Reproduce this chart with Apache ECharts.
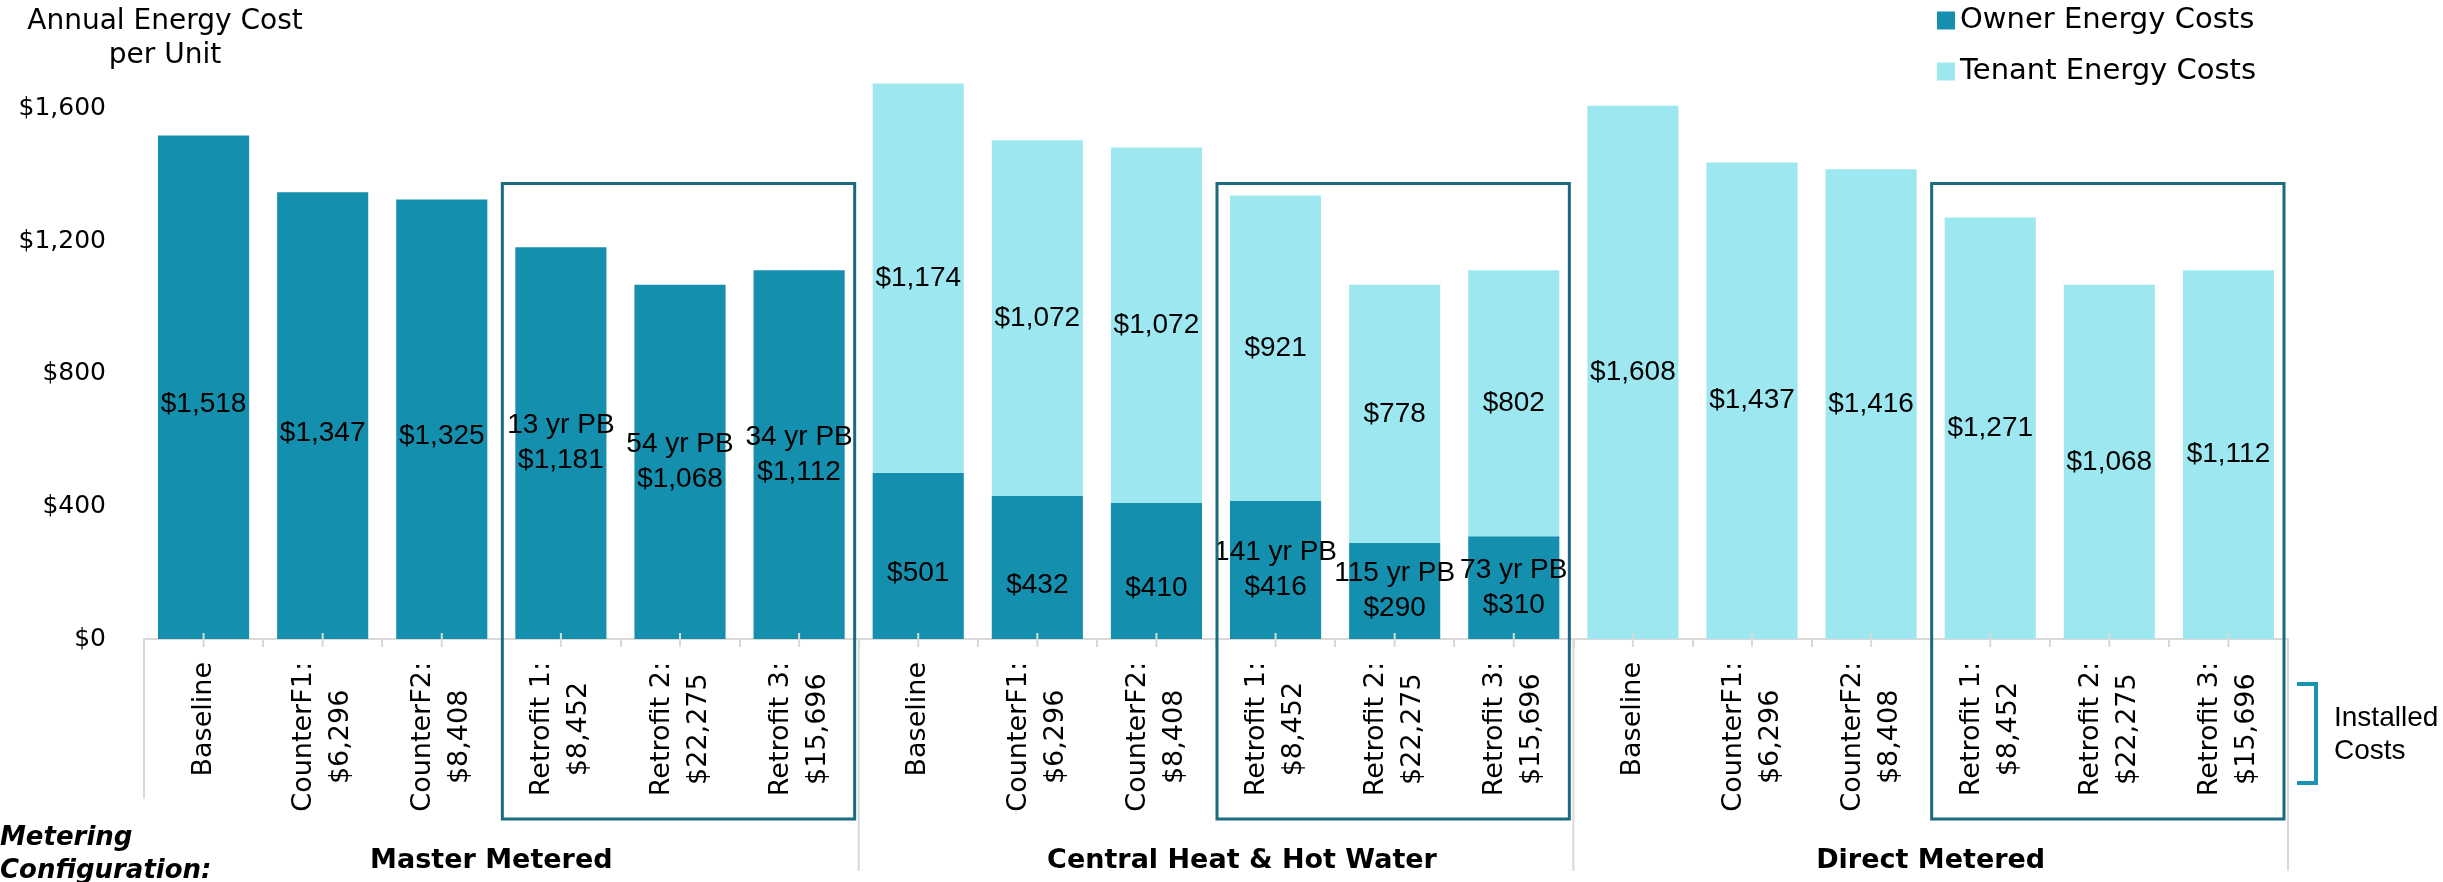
<!DOCTYPE html>
<html>
<head>
<meta charset="utf-8">
<script src="https://cdn.jsdelivr.net/npm/echarts@6/dist/echarts.min.js"></script>
<style>
html,body{margin:0;padding:0;background:#fff;}
#chart{width:2443px;height:882px;}
</style>
</head>
<body>
<div id="chart"></div>
<script>
// ---------------- DATA ----------------
const scenarioLabels = ['Baseline', 'CounterF1:\n$6,296', 'CounterF2:\n$8,408',
  'Retrofit 1:\n$8,452', 'Retrofit 2:\n$22,275', 'Retrofit 3:\n$15,696'];
const groups = ['Master Metered', 'Central Heat & Hot Water', 'Direct Metered'];
const categories = [].concat(scenarioLabels, scenarioLabels, scenarioLabels);

const ownerCosts = [1518, 1347, 1325, 1181, 1068, 1112,
                    501, 432, 410, 416, 290, 310,
                    null, null, null, null, null, null];
const tenantCosts = [null, null, null, null, null, null,
                     1174, 1072, 1072, 921, 778, 802,
                     1608, 1437, 1416, 1271, 1068, 1112];
const paybackLabels = ['', '', '', '13 yr PB', '54 yr PB', '34 yr PB',
                       '', '', '', '141 yr PB', '115 yr PB', '73 yr PB',
                       '', '', '', '', '', ''];
const yTickValues = [0, 400, 800, 1200, 1600];
const seriesNames = ['Owner Energy Costs', 'Tenant Energy Costs'];
const yTitle = 'Annual Energy Cost\nper Unit';
const meteringTitle = 'Metering\nConfiguration:';
const installedTitle = 'Installed\nCosts';

// ---------------- STYLE ----------------
const OWNER = '#148FAD';
const TENANT = '#9DE8F0';
const BOX = '#1A6A80';
const BRACKET = '#1A93B2';
const AXISGREY = '#D9D9D9';
const GOTHIC = "'DejaVu Sans', sans-serif";
const ARIAL = "'Liberation Sans', Arial, sans-serif";

const money = v => '$' + Number(v).toLocaleString('en-US');

const chart = echarts.init(document.getElementById('chart'), null, {renderer: 'canvas'});

const option = {
  animation: false,
  backgroundColor: '#fff',
  legend: {
    orient: 'vertical',
    left: 1932,
    top: 1,
    itemWidth: 18,
    itemHeight: 18,
    itemGap: 22,
    icon: 'rect',
    textStyle: {fontFamily: GOTHIC, fontSize: 29, color: '#000'},
    data: seriesNames
  },
  grid: {left: 144, right: 155, top: 42, bottom: 243, containLabel: false},
  xAxis: {
    type: 'category',
    data: categories,
    axisLine: {show: true, lineStyle: {color: AXISGREY, width: 2}},
    axisTick: {show: true, length: 8, lineStyle: {color: AXISGREY, width: 2}},
    axisLabel: {
      interval: 0,
      rotate: 90,
      margin: 23,
      color: '#000',
      fontFamily: GOTHIC,
      fontSize: 27,
      formatter: v => v.split('\n').map(s => '{c|' + s + '}').join('\n'),
      rich: {c: {align: 'center', fontFamily: GOTHIC, fontSize: 27, lineHeight: 37, color: '#000'}}
    }
  },
  yAxis: {
    type: 'value',
    min: 0,
    max: 1800,
    interval: 400,
    axisLine: {show: false},
    axisTick: {show: false},
    splitLine: {show: false},
    axisLabel: {
      margin: 38,
      color: '#000',
      fontFamily: GOTHIC,
      fontSize: 25,
      formatter: v => (yTickValues.indexOf(v) >= 0 ? money(v) : '')
    }
  },
  series: [
    {
      name: seriesNames[0],
      type: 'bar',
      stack: 'total',
      barCategoryGap: '23.5%',
      itemStyle: {color: OWNER},
      data: ownerCosts,
      label: {
        show: true,
        position: 'inside',
        color: '#000',
        fontFamily: ARIAL,
        fontSize: 28,
        lineHeight: 35,
        formatter: p => (paybackLabels[p.dataIndex] || '') + '\n' + money(p.value)
      }
    },
    {
      name: seriesNames[1],
      type: 'bar',
      stack: 'total',
      barCategoryGap: '23.5%',
      itemStyle: {color: TENANT},
      data: tenantCosts,
      label: {
        show: true,
        position: 'inside',
        color: '#000',
        fontFamily: ARIAL,
        fontSize: 28,
        lineHeight: 35,
        formatter: p => money(p.value)
      }
    }
  ]
};
chart.setOption(option);

// ---------------- ANNOTATIONS (positions derived from the axes) ----------------
const p0 = chart.convertToPixel({gridIndex: 0}, [0, 0]);
const p1 = chart.convertToPixel({gridIndex: 0}, [1, 0]);
const band = p1[0] - p0[0];
const axisY = p0[1];
const center = i => p0[0] + i * band;
const boundary = i => p0[0] - band / 2 + i * band;
const yPix = v => chart.convertToPixel({gridIndex: 0}, [0, v])[1];

const g = [];
// center ticks
for (let i = 0; i < categories.length; i++) {
  g.push({type: 'line', silent: true, z: 5,
    shape: {x1: center(i), y1: axisY - 6, x2: center(i), y2: axisY + 8},
    style: {stroke: AXISGREY, lineWidth: 2}});
}
// group separators
for (let k = 0; k <= groups.length; k++) {
  const x = boundary(k * scenarioLabels.length);
  g.push({type: 'line', silent: true, z: 5,
    shape: {x1: x, y1: axisY, x2: x, y2: k === 0 ? axisY + 160 : axisY + 232},
    style: {stroke: AXISGREY, lineWidth: 2}});
}
// retrofit boxes
const boxTop = yPix(1373);
for (let k = 0; k < groups.length; k++) {
  const x1 = boundary(k * 6 + 3) + 1;
  const x2 = boundary(k * 6 + 6) - 4;
  g.push({type: 'rect', silent: true, z: 20,
    shape: {x: x1, y: boxTop, width: x2 - x1, height: axisY + 180 - boxTop},
    style: {fill: null, stroke: BOX, lineWidth: 3}});
}
// group labels
const groupDx = [-10, 26, 0];
for (let k = 0; k < groups.length; k++) {
  const cx = (boundary(k * 6) + boundary(k * 6 + 6)) / 2 + groupDx[k];
  g.push({type: 'text', silent: true, z: 20, x: cx, y: axisY + 222,
    style: {text: groups[k], align: 'center', verticalAlign: 'middle',
      font: "bold 27px 'DejaVu Sans', sans-serif", fill: '#000'}});
}
// metering configuration label
g.push({type: 'text', silent: true, z: 20, x: 0, y: axisY + 216,
  style: {text: meteringTitle, align: 'left', verticalAlign: 'middle', lineHeight: 33,
    font: "italic bold 26px 'DejaVu Sans', sans-serif", fill: '#000'}});
// y-axis title
g.push({type: 'text', silent: true, z: 20, x: 165, y: 39,
  style: {text: yTitle, align: 'center', verticalAlign: 'middle', lineHeight: 34,
    font: "28px 'DejaVu Sans', sans-serif", fill: '#000'}});
// installed costs bracket + text
const bx = boundary(categories.length) + 9;
g.push({type: 'polyline', silent: true, z: 20,
  shape: {points: [[bx, axisY + 45], [bx + 19, axisY + 45], [bx + 19, axisY + 144], [bx, axisY + 144]]},
  style: {stroke: BRACKET, lineWidth: 4, fill: null}});
g.push({type: 'text', silent: true, z: 20, x: bx + 37, y: axisY + 96,
  style: {text: installedTitle, align: 'left', verticalAlign: 'middle', lineHeight: 33,
    font: "28px 'Liberation Sans', Arial, sans-serif", fill: '#000'}});

chart.setOption({graphic: {elements: g}});
</script>
</body>
</html>
